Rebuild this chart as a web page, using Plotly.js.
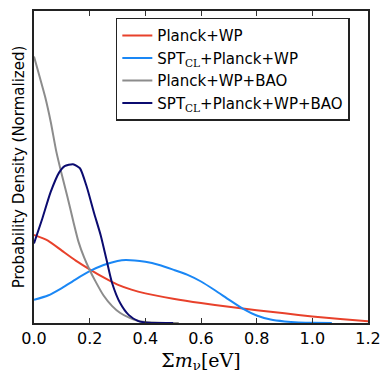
<!DOCTYPE html>
<html>
<head>
<meta charset="utf-8">
<script src="https://cdn.plot.ly/plotly-3.0.1.min.js"></script>
<style>
  html, body { margin: 0; padding: 0; background: #fff; }
  #chart { width: 391px; height: 386px; }
</style>
</head>
<body>
<div id="chart"></div>
<script>
// Densidades de probabilidad (normalizadas) de la suma de masas de neutrinos
var xPlanck = [0, 0.05, 0.1, 0.15, 0.2, 0.25, 0.3, 0.35, 0.4, 0.5, 0.6, 0.7, 0.8, 0.9, 1.0, 1.1, 1.2];
var yPlanck = [0.282, 0.264, 0.232, 0.2, 0.172, 0.146, 0.123, 0.107, 0.095, 0.078, 0.064, 0.052, 0.041, 0.031, 0.021, 0.013, 0.006];

var xSpt = [0, 0.05, 0.1, 0.15, 0.2, 0.25, 0.3, 0.33, 0.4, 0.45, 0.5, 0.55, 0.6, 0.65, 0.7, 0.75, 0.8, 0.85, 0.9, 0.95, 1.0, 1.07];
var ySpt = [0.074, 0.088, 0.112, 0.14, 0.166, 0.186, 0.199, 0.202, 0.196, 0.186, 0.171, 0.155, 0.133, 0.105, 0.075, 0.046, 0.024, 0.011, 0.005, 0.002, 0.001, 0];

var xBao = [0, 0.02, 0.04, 0.06, 0.08, 0.10, 0.12, 0.14, 0.16, 0.18, 0.20, 0.22, 0.25, 0.28, 0.31, 0.34, 0.37, 0.40, 0.45, 0.52];
var yBao = [0.854, 0.79, 0.725, 0.645, 0.55, 0.475, 0.405, 0.33, 0.26, 0.21, 0.17, 0.135, 0.088, 0.055, 0.032, 0.018, 0.008, 0.003, 0.001, 0];

var xSptBao = [0, 0.03, 0.06, 0.09, 0.11, 0.14, 0.165, 0.19, 0.215, 0.24, 0.26, 0.28, 0.31, 0.34, 0.375, 0.41, 0.45, 0.5];
var ySptBao = [0.255, 0.335, 0.42, 0.482, 0.503, 0.509, 0.496, 0.435, 0.355, 0.28, 0.205, 0.13, 0.063, 0.026, 0.006, 0.001, 0, 0];

var nombres = [
  'Planck+WP',
  'SPT<sub><span style="font-family:\'DejaVu Serif\'">CL</span></sub>+Planck+WP',
  'Planck+WP+BAO',
  'SPT<sub><span style="font-family:\'DejaVu Serif\'">CL</span></sub>+Planck+WP+BAO'
];
var colores = ['#e8412b', '#1a87f5', '#8c8c8c', '#0b0b70'];
var xs = [xPlanck, xSpt, xBao, xSptBao];
var ys = [yPlanck, ySpt, yBao, ySptBao];

var data = [];
for (var i = 0; i < 4; i++) {
  data.push({
    x: xs[i],
    y: ys[i],
    name: nombres[i],
    type: 'scatter',
    mode: 'lines',
    line: {color: colores[i], width: 2, shape: 'spline', smoothing: 0.6}
  });
}

var layout = {
  width: 391,
  height: 386,
  margin: {l: 34, r: 23, t: 11, b: 63},
  paper_bgcolor: '#fff',
  plot_bgcolor: '#fff',
  font: {family: 'DejaVu Sans', size: 15, color: '#000'},
  showlegend: true,
  legend: {
    x: 0.245, y: 0.978, xanchor: 'left', yanchor: 'top',
    bordercolor: '#222', borderwidth: 1.5, bgcolor: '#fff',
    font: {family: 'DejaVu Sans', size: 15},
    tracegroupgap: 0
  },
  xaxis: {
    range: [0, 1.2],
    tickvals: [0, 0.2, 0.4, 0.6, 0.8, 1.0, 1.2],
    ticktext: ['0.0', '0.2', '0.4', '0.6', '0.8', '1.0', '1.2'],
    ticks: 'inside', ticklen: 5, tickcolor: '#333',
    showgrid: false, zeroline: false,
    showline: true, linecolor: '#222', linewidth: 2, mirror: 'ticks',
    tickfont: {size: 16},
    title: {text: 'Σ<i>m</i><sub>ν</sub>[eV]', font: {family: 'DejaVu Serif', size: 19}, standoff: 6}
  },
  yaxis: {
    range: [0, 1],
    showticklabels: false, ticks: '',
    showgrid: false, zeroline: false,
    showline: true, linecolor: '#222', linewidth: 2, mirror: true,
    title: {text: 'Probability Density (Normalized)', font: {size: 15}, standoff: 4}
  }
};

Plotly.newPlot('chart', data, layout, {staticPlot: true});
</script>
</body>
</html>
